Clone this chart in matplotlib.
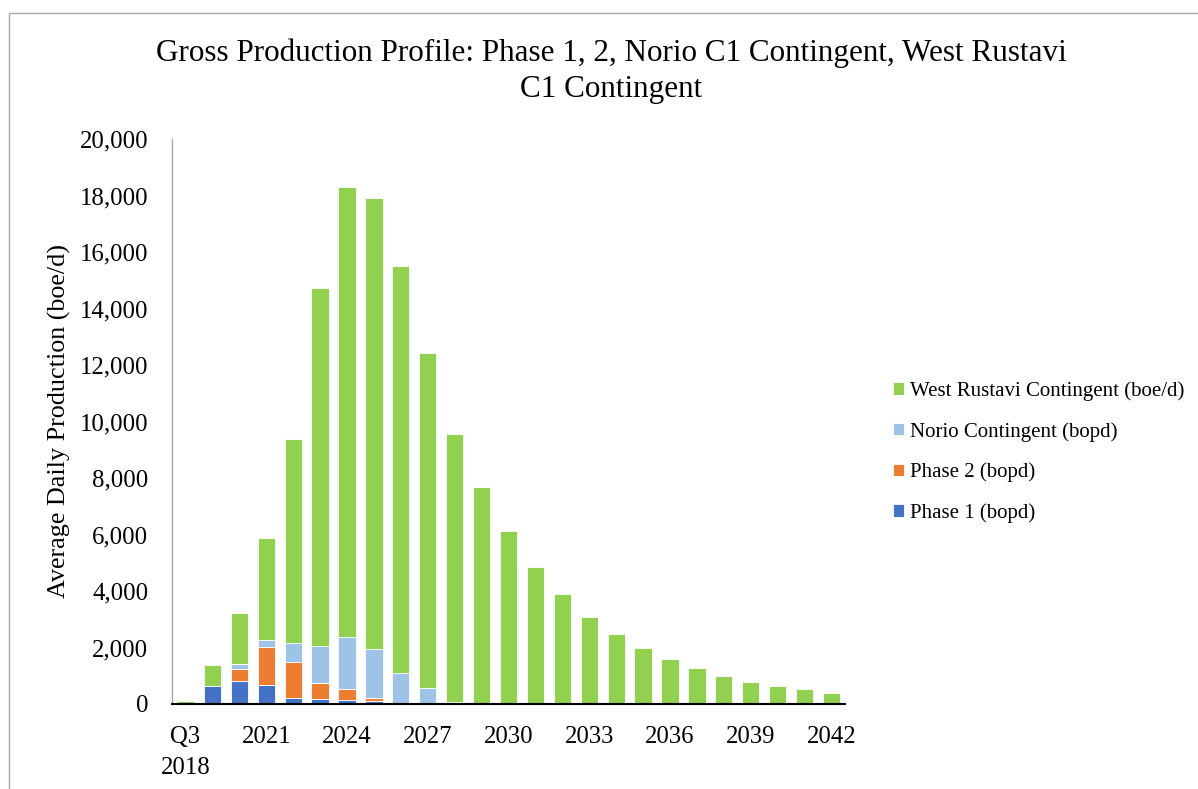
import matplotlib
matplotlib.use('Agg')
import matplotlib.pyplot as plt
from matplotlib.patches import Rectangle
import numpy as np

# --- Data ---
years = ['Q3\n2018'] + [str(y) for y in range(2019, 2043)]
phase1 = [0, 650, 825, 685, 200, 165, 130, 95, 0, 0, 0, 0, 0,
          0, 0, 0, 0, 0, 0, 0, 0, 0, 0, 0, 0]
phase2 = [0, 0, 425, 1335, 1300, 590, 390, 115, 0, 0, 0, 0, 0,
          0, 0, 0, 0, 0, 0, 0, 0, 0, 0, 0, 0]
norio = [0, 0, 165, 245, 660, 1290, 1850, 1740, 1100, 555, 80, 50, 20,
         0, 0, 0, 0, 0, 0, 0, 0, 0, 0, 0, 0]
west_rustavi = [110, 730, 1800, 3610, 7220, 12690, 15920, 15950, 14390, 11860, 9480, 7620, 6100,
                4840, 3880, 3090, 2480, 1970, 1580, 1260, 990, 790, 640, 520, 400]

GREEN = '#92D050'
LBLUE = '#9DC3E6'
ORANGE = '#ED7D31'
BLUE = '#4472C4'

plt.rcParams['font.family'] = ['Liberation Serif', 'DejaVu Serif']

fig = plt.figure(figsize=(11.98, 7.89), dpi=100)
ax = fig.add_axes([172/1198, 1 - 704/789, (845-172)/1198, (704-139)/789])

# chart border (partly off-canvas like the original)
fig.patches.append(Rectangle((9/1198, -0.05), 1.2, 1 - 13/789 + 0.05, transform=fig.transFigure,
                             fill=False, edgecolor='#A6A6A6', linewidth=1.0))

x = np.arange(len(years))
w = 0.64
p1 = np.array(phase1)
p2 = np.array(phase2)
no = np.array(norio)
wr = np.array(west_rustavi)
edge = dict(edgecolor='white', linewidth=0.6)
b1 = ax.bar(x, p1, w, color=BLUE, label='Phase 1 (bopd)', **edge)
b2 = ax.bar(x, p2, w, bottom=p1, color=ORANGE, label='Phase 2 (bopd)', **edge)
b3 = ax.bar(x, no, w, bottom=p1 + p2, color=LBLUE, label='Norio Contingent (bopd)', **edge)
b4 = ax.bar(x, wr, w, bottom=p1 + p2 + no, color=GREEN, label='West Rustavi Contingent (boe/d)', **edge)

ax.set_xlim(-0.5, len(years) - 0.5)
ax.set_ylim(0, 20000)
ax.set_yticks(range(0, 20001, 2000))
ax.set_yticklabels([f'{v:,}' for v in range(0, 20001, 2000)], fontsize=17.8)
ax.set_xticks(x[::3])
ax.set_xticklabels(years[::3], fontsize=17.8, linespacing=1.5)
ax.tick_params(axis='y', length=0, pad=17)
ax.tick_params(axis='x', length=0, pad=16)

for s in ['top', 'right']:
    ax.spines[s].set_visible(False)
ax.spines['left'].set_color('#A6A6A6')
ax.spines['left'].set_linewidth(1.0)
ax.spines['bottom'].set_color('black')
ax.spines['bottom'].set_linewidth(1.5)

ax.set_ylabel('Average Daily Production (boe/d)', fontsize=18.8)
ax.yaxis.set_label_coords((71 - 172) / 673, 0.5)

fig.text(611/1198, 1 - 71/789,
         'Gross Production Profile: Phase 1, 2, Norio C1 Contingent, West Rustavi\nC1 Contingent',
         ha='center', va='center', fontsize=22.4, linespacing=1.3)

ax.legend(handles=[b4, b3, b2, b1], loc='center left', bbox_to_anchor=(874/1198, 1 - 452/789),
          bbox_transform=fig.transFigure, frameon=False, fontsize=15,
          handlelength=0.55, handleheight=0.55, handletextpad=0.3, labelspacing=1.0)

fig.savefig('out.png', dpi=100)
